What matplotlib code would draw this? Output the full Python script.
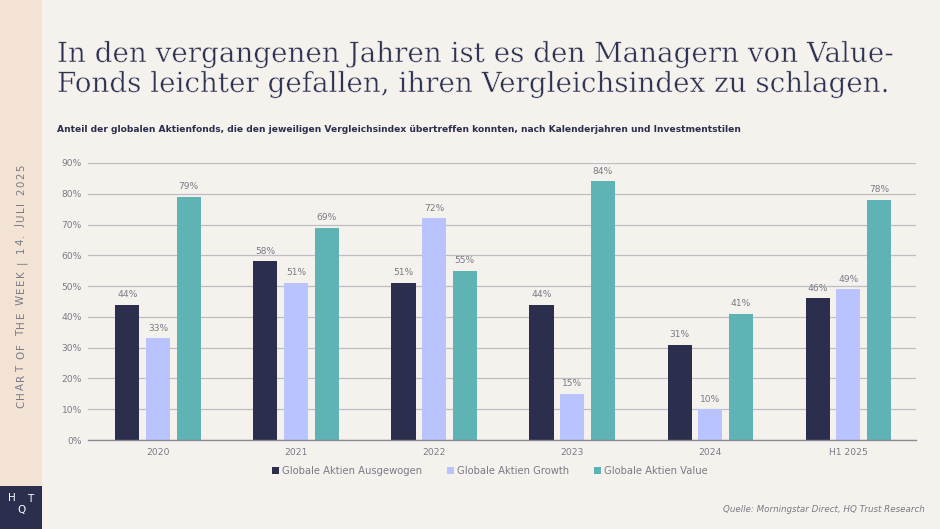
import matplotlib
matplotlib.use("Agg")
import matplotlib.pyplot as plt
from matplotlib.patches import Rectangle
import matplotlib.patheffects as pe
import numpy as np

categories = ["2020", "2021", "2022", "2023", "2024", "H1 2025"]
series_names = ["Globale Aktien Ausgewogen", "Globale Aktien Growth", "Globale Aktien Value"]
ausgewogen = [44, 58, 51, 44, 31, 46]
growth = [33, 51, 72, 15, 10, 49]
value = [79, 69, 55, 84, 41, 78]
yticks = [0, 10, 20, 30, 40, 50, 60, 70, 80, 90]

colors = ["#2B2E4D", "#B9C4FF", "#5FB3B5"]
bg = "#F5F2EE"
side = "#F2E3D4"
navy = "#2B2E4D"
grey = "#7A7A86"

fig = plt.figure(figsize=(9.4, 5.29), dpi=100)
fig.patch.set_facecolor(bg)
W, H = 940, 529

def fx(px):
    return px / W

def fy(py):
    return 1 - py / H

# sidebar
fig.add_artist(Rectangle((0, 0), fx(42), 43 / H, transform=fig.transFigure, facecolor=navy, edgecolor="none", zorder=1))
fig.add_artist(Rectangle((0, 43 / H), fx(42), 1, transform=fig.transFigure, facecolor=side, edgecolor="none", zorder=0))
fig.text(fx(12), fy(498), "H", color="white", fontsize=7.5, ha="center", va="center", transform=fig.transFigure, zorder=2)
fig.text(fx(21), fy(510), "Q", color="white", fontsize=7.5, ha="center", va="center", transform=fig.transFigure, zorder=2)
fig.text(fx(30.5), fy(499), "T", color="white", fontsize=7.5, ha="center", va="center", transform=fig.transFigure, zorder=2)

# letter-spaced vertical label
side_label = "CHART OF THE WEEK | 14. JULI 2025"
renderer = fig.canvas.get_renderer()
widths = []
for ch in side_label:
    t = fig.text(0, 0, ch if ch != " " else "a", fontsize=7.4)
    bb = t.get_window_extent(renderer)
    widths.append(bb.width if ch != " " else bb.width * 0.55)
    t.remove()
track = 1.75
pos = 408.0
for ch, wd in zip(side_label, widths):
    if ch != " ":
        fig.text(fx(21), fy(pos - wd / 2), ch, rotation=90, color=grey, fontsize=7.4,
                 ha="center", va="center", transform=fig.transFigure)
    pos -= wd + track

# title
title_kw = dict(color="#2E3252", fontsize=20.0, family="DejaVu Serif", ha="left", va="baseline",
                path_effects=[pe.Stroke(linewidth=0.35, foreground=bg)])
fig.text(fx(57), fy(62), "In den vergangenen Jahren ist es den Managern von Value-", **title_kw)
fig.text(fx(57), fy(92), "Fonds leichter gefallen, ihren Vergleichsindex zu schlagen.", **title_kw)
fig.text(fx(57), fy(130), "Anteil der globalen Aktienfonds, die den jeweiligen Vergleichsindex übertreffen konnten, nach Kalenderjahren und Investmentstilen",
         color=navy, fontsize=6.6, fontweight="bold", ha="left", va="center")

ax = fig.add_axes([fx(88), fy(440), (916 - 88) / W, (440 - 163) / H])
ax.set_facecolor(bg)
x = np.arange(len(categories))
w = 0.175
off = 0.222
for i, (vals, c) in enumerate(zip([ausgewogen, growth, value], colors)):
    xs = x + (i - 1) * off
    ax.bar(xs, vals, width=w, color=c, label=series_names[i], zorder=3)
    for xi, v in zip(xs, vals):
        ax.text(xi, v + 1.8, f"{v}%", ha="center", va="bottom", fontsize=6.6, color=grey, zorder=4)

ax.set_xlim(-0.507, 5.49)
ax.set_ylim(0, 90)
ax.set_yticks(yticks)
ax.set_yticklabels([f"{t}%" for t in yticks])
ax.set_xticks(x)
ax.set_xticklabels(categories)
ax.grid(axis="y", color="#BDBDC2", linewidth=0.9, zorder=0)
for s in ["top", "right", "left"]:
    ax.spines[s].set_visible(False)
ax.spines["bottom"].set_color("#8A8A96")
ax.spines["bottom"].set_linewidth(1.0)
ax.spines["bottom"].set_zorder(5)
ax.tick_params(axis="both", length=0, labelsize=6.6, colors=grey)
ax.tick_params(axis="y", pad=4.5)
ax.tick_params(axis="x", pad=6)

leg = fig.legend(loc="center", bbox_to_anchor=(fx(490), fy(471)), ncol=3, frameon=False,
                 fontsize=7.2, handlelength=0.7, handleheight=0.7, handletextpad=0.3, columnspacing=2.5,
                 labelcolor=grey)

fig.text(fx(925), fy(510), "Quelle: Morningstar Direct, HQ Trust Research", style="italic",
         color=grey, fontsize=6.3, ha="right", va="center")

fig.savefig("out.png", dpi=100, facecolor=bg)
